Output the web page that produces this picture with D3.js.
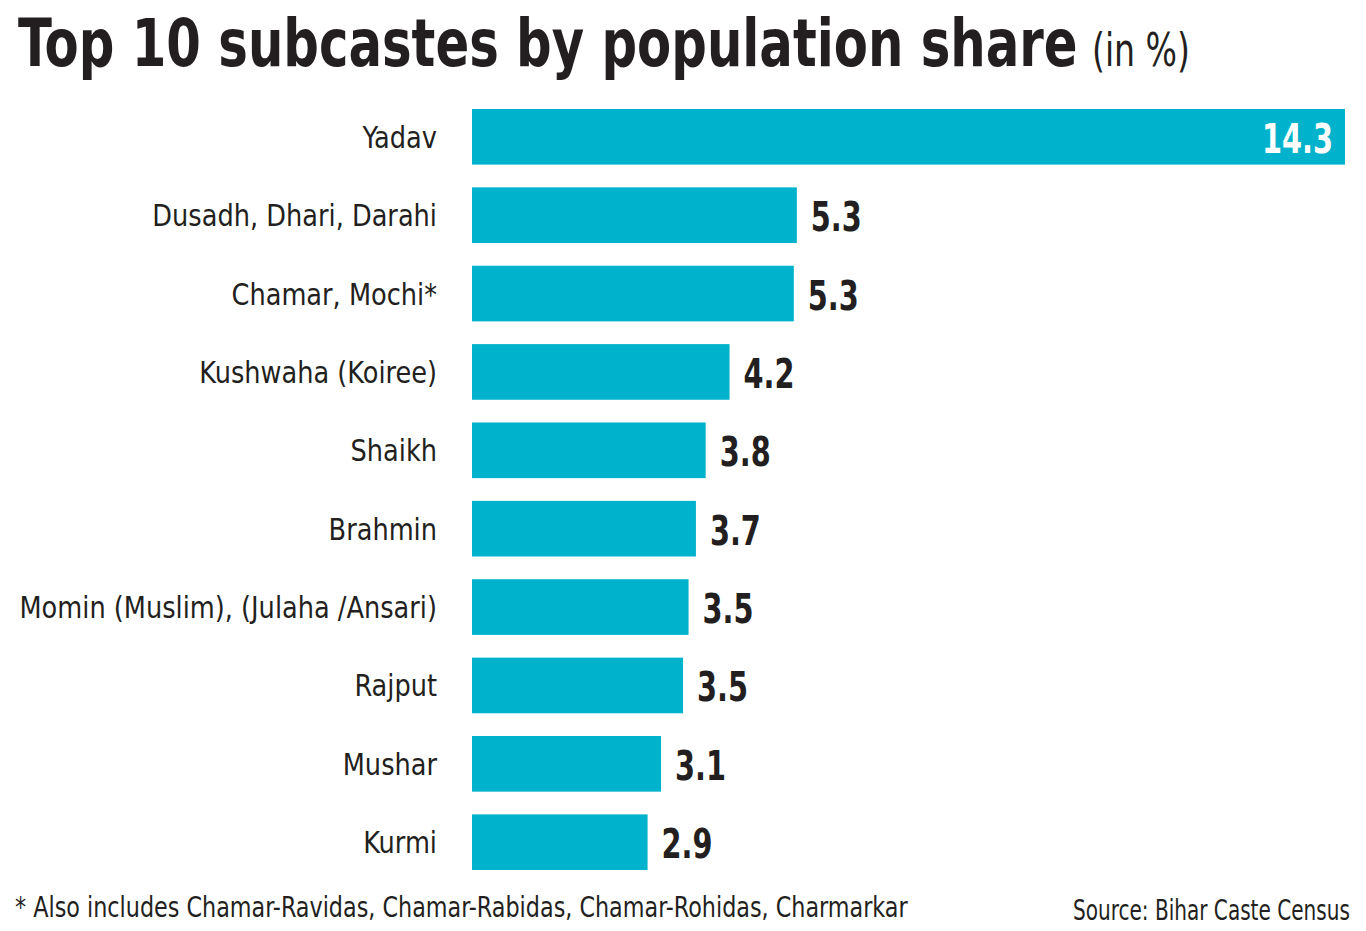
<!DOCTYPE html>
<html>
<head>
<meta charset="utf-8">
<script src="https://cdn.jsdelivr.net/npm/d3@7"></script>
<style>
  body { margin: 0; background: #fff; }
  svg text { font-family: "Liberation Sans Narrow", "DejaVu Sans Condensed", "Roboto", sans-serif; fill: #231f20; }
</style>
</head>
<body>
<div id="chart"></div>
<script>
const categories = [
    'Yadav',
    'Dusadh, Dhari, Darahi',
    'Chamar, Mochi*',
    'Kushwaha (Koiree)',
    'Shaikh',
    'Brahmin',
    'Momin (Muslim), (Julaha /Ansari)',
    'Rajput',
    'Mushar',
    'Kurmi'
];
const shares = [14.27, 5.31, 5.26, 4.21, 3.82, 3.66, 3.54, 3.45, 3.09, 2.87];

const width = 1366;
const height = 931;
const left = 472;
const right = 1345;

const svg = d3.select('#chart').append('svg')
    .attr('width', width)
    .attr('height', height);

// squeeze a text horizontally so it spans the given width
const fitText = (sel, tx, ty, w) => {
    const natural = sel.node().getComputedTextLength();
    sel.attr('transform', `translate(${tx}, ${ty}) scale(${w / natural}, 1)`);
};

// title
const title = svg.append('text')
    .style('font-size', '66px')
    .style('font-weight', 'bold')
    .text('Top 10 subcastes by population share');
fitText(title, 18, 66, 1060);

const unit = svg.append('text')
    .style('font-size', '46px')
    .text('(in %)');
fitText(unit, 1092, 66, 98);

const x = d3.scaleLinear()
    .domain([0, d3.max(shares)])
    .range([left, right]);

const y = d3.scaleBand()
    .domain(categories)
    .range([98, 881])
    .paddingInner(0.29)
    .paddingOuter(0.14);

const rows = svg.selectAll('g.row')
    .data(categories)
    .enter()
    .append('g')
    .attr('class', 'row');

rows.append('rect')
    .attr('x', x(0))
    .attr('y', d => y(d))
    .attr('width', (d, i) => x(shares[i]) - x(0))
    .attr('height', y.bandwidth())
    .attr('fill', '#00b2cc');

// category labels, squeezed to look condensed
rows.append('text')
    .attr('transform', d => `translate(${left - 35}, ${y(d) + y.bandwidth() / 2 + 11}) scale(0.92, 1)`)
    .attr('text-anchor', 'end')
    .style('font-size', '31px')
    .text(d => d);

rows.append('text')
    .attr('transform', (d, i) => {
        const tx = i === 0 ? x(shares[i]) - 12 : x(shares[i]) + 14;
        return `translate(${tx}, ${y(d) + y.bandwidth() / 2 + 16}) scale(0.78, 1)`;
    })
    .attr('text-anchor', (d, i) => i === 0 ? 'end' : 'start')
    .style('font-size', '41px')
    .style('font-weight', 'bold')
    .style('fill', (d, i) => i === 0 ? '#fff' : '#231f20')
    .text((d, i) => shares[i].toFixed(1));

// footer
const note = svg.append('text')
    .style('font-size', '29px')
    .text('* Also includes Chamar-Ravidas, Chamar-Rabidas, Chamar-Rohidas, Charmarkar');
fitText(note, 15, 917, 893);

const source = svg.append('text')
    .style('font-size', '28px')
    .text('Source: Bihar Caste Census');
fitText(source, 1073, 920, 277);
</script>
</body>
</html>
